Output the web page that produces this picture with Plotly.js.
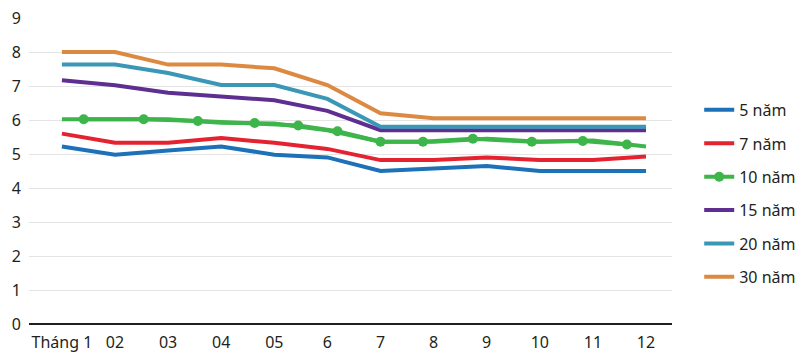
<!DOCTYPE html>
<html>
<head>
<meta charset="utf-8">
<script src="https://cdn.plot.ly/plotly-3.0.1.min.js"></script>
<style>
html,body{margin:0;padding:0;background:#fff;}
#chart{width:800px;height:357px;}
</style>
</head>
<body>
<div id="chart"></div>
<script>
// Categories (month positions) and tick labels
const months = [1,2,3,4,5,6,7,8,9,10,11,12];
const tickLabels = ["Tháng 1","02","03","04","05","6","7","8","9","10","11","12"];

// Series values (%)
const y5  = [5.22, 4.98, 5.10, 5.22, 4.98, 4.90, 4.50, 4.57, 4.65, 4.50, 4.50, 4.50];
const y7  = [5.60, 5.33, 5.33, 5.47, 5.33, 5.15, 4.82, 4.82, 4.90, 4.82, 4.82, 4.93];
const y10 = [6.02, 6.02, 6.02, 5.92, 5.90, 5.70, 5.36, 5.36, 5.45, 5.36, 5.40, 5.22];
const y15 = [7.17, 7.02, 6.80, 6.70, 6.58, 6.27, 5.70, 5.70, 5.70, 5.70, 5.70, 5.70];
const y20 = [7.63, 7.63, 7.38, 7.03, 7.03, 6.62, 5.80, 5.80, 5.80, 5.80, 5.80, 5.80];
const y30 = [8.00, 8.00, 7.63, 7.63, 7.52, 7.03, 6.20, 6.05, 6.05, 6.05, 6.05, 6.05];

// 10-year marker points (read positions in month units)
const m10x = [1.41, 2.54, 3.56, 4.63, 5.45, 6.19, 7.00, 7.80, 8.74, 9.85, 10.81, 11.64];
const m10y = [6.02, 6.02, 5.97, 5.91, 5.84, 5.67, 5.36, 5.36, 5.45, 5.36, 5.38, 5.28];

const names = ["5 năm","7 năm","10 năm","15 năm","20 năm","30 năm"];
const colors = ["#1c71b8","#e52330","#3db54a","#5e2e91","#3a97b6","#dc8a41"];

const LW = 4;
function lineTrace(y, i, show){
  return {x: months, y: y, type:'scatter', mode:'lines', name: names[i],
    legendgroup:'g'+i, showlegend: show,
    line:{color:colors[i], width:LW}, hoverinfo:'skip'};
}
const data = [
  lineTrace(y5,0,true),
  lineTrace(y7,1,true),
  lineTrace(y10,2,false),
  {x:m10x, y:m10y, type:'scatter', mode:'lines+markers', name:names[2], legendgroup:'g2',
   line:{color:colors[2], width:LW}, marker:{color:colors[2], size:10}},
  lineTrace(y15,3,true),
  lineTrace(y20,4,true),
  lineTrace(y30,5,true)
];

const font = {family:'"Noto Sans", sans-serif', size:15, color:'#231f20'};
const layout = {
  width:800, height:357,
  margin:{l:29, r:128, t:18, b:33},
  paper_bgcolor:'#fff', plot_bgcolor:'#fff',
  font: font,
  showlegend:true,
  legend:{xref:'container', x:0.874, y:0.755, xanchor:'left', yanchor:'top', tracegroupgap:9.6,
    font:{family:'"Noto Sans", sans-serif', size:16, color:'#231f20'},
    bgcolor:'rgba(0,0,0,0)'},
  xaxis:{range:[0.38,12.49], tickmode:'array', tickvals:months, ticktext:tickLabels,
    showgrid:false, zeroline:false, showline:false, ticks:'', fixedrange:true,
    ticklabelstandoff:7,
    tickfont:{family:'"Noto Sans", sans-serif', size:16, color:'#231f20'}},
  yaxis:{range:[0,9], dtick:1, tick0:0, showgrid:true, gridcolor:'#e4e4e4', gridwidth:1,
    zeroline:true, zerolinecolor:'#231f20', zerolinewidth:2, showline:false, ticks:'',
    ticklabelstandoff:7,
    tickfont:{family:'"Noto Sans", sans-serif', size:16, color:'#231f20'}}
};
Plotly.newPlot('chart', data, layout, {displayModeBar:false, staticPlot:true});
</script>
</body>
</html>
